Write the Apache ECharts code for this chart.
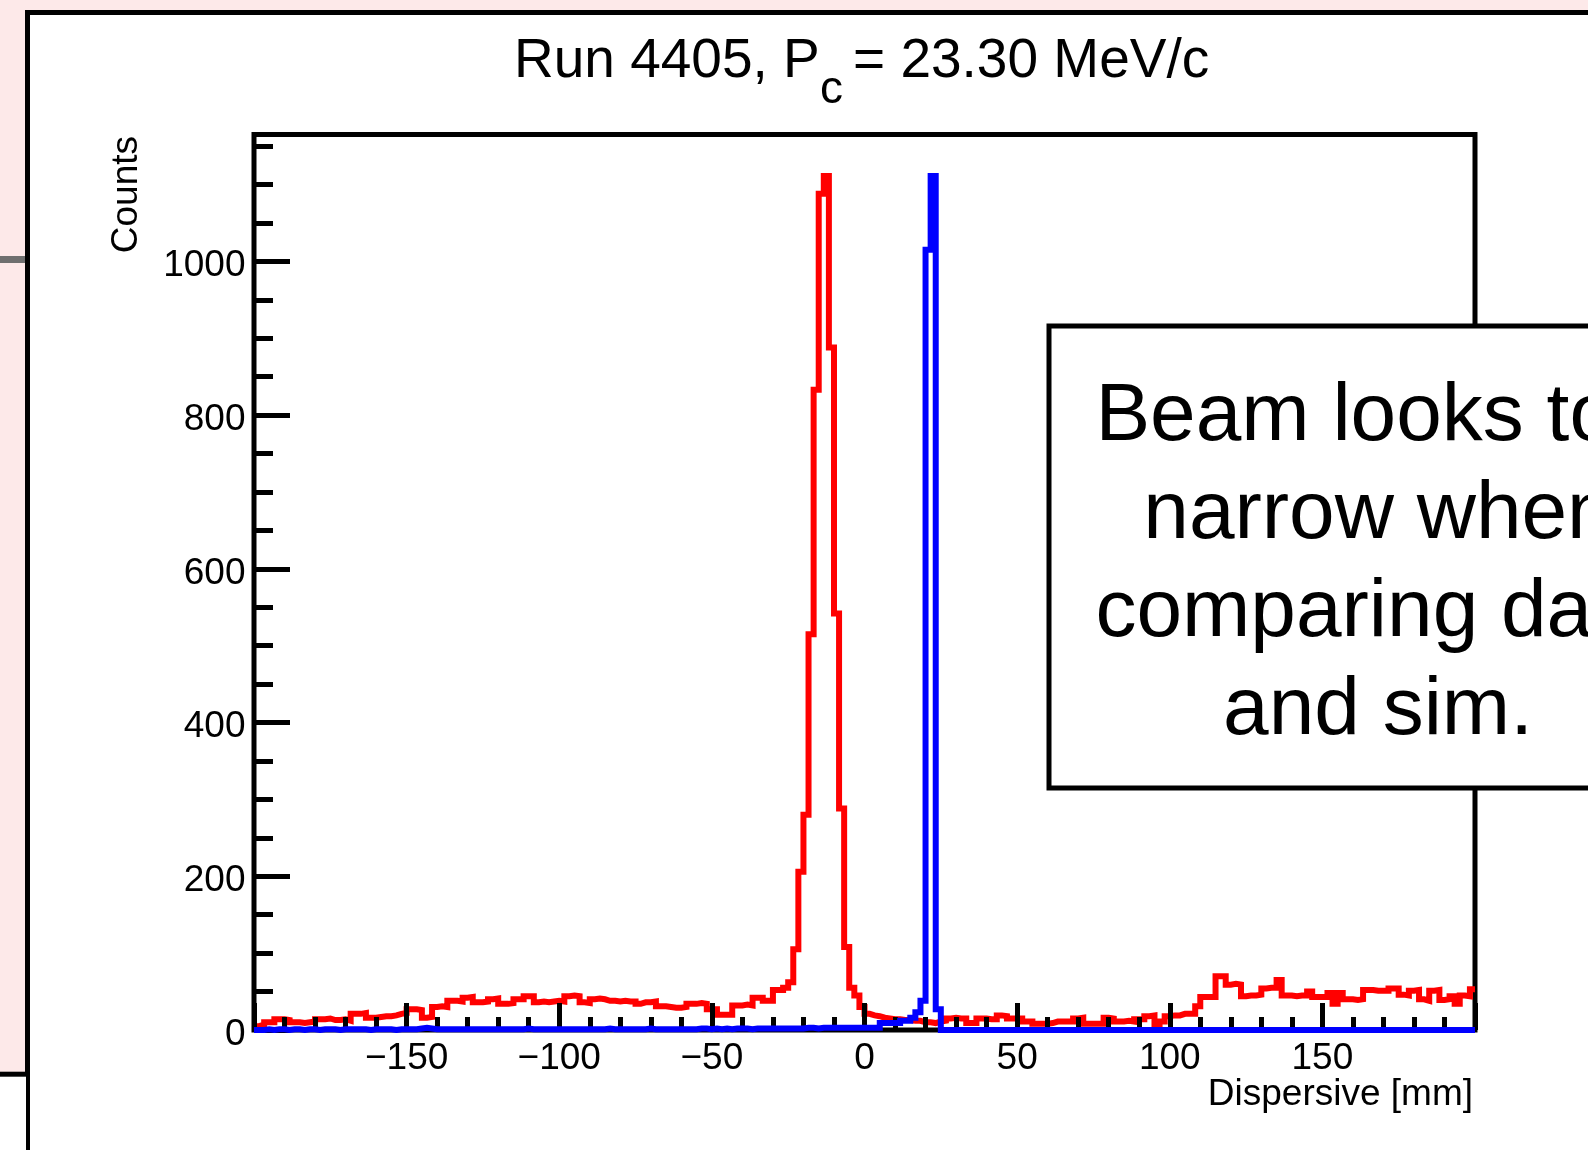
<!DOCTYPE html>
<html>
<head>
<meta charset="utf-8">
<script src="https://cdn.jsdelivr.net/npm/echarts@6/dist/echarts.min.js"></script>
<style>
html,body{margin:0;padding:0;background:#fde9e9;}
#chart{width:1588px;height:1150px;}
</style>
</head>
<body>
<div id="chart"></div>
<script>
// ---- data ----
const binMin = -200;
const binMax = 200;
const nBins = 240;
const xTickValues = [-200, -150, -100, -50, 0, 50, 100, 150, 200];
const yTickValues = [0, 200, 400, 600, 800, 1000];
const yMax = 1165;

// Data histogram (red), counts per bin
const dataCounts = [
  5, 7, 10, 10, 14, 14, 13, 10, 10, 9,
  10, 11, 14, 14, 15, 13, 13, 14, 12, 21,
  21, 22, 16, 16, 17, 18, 18, 19, 21, 22,
  27, 27, 26, 16, 17, 30, 31, 30, 38, 38,
  37, 42, 43, 36, 36, 37, 40, 41, 34, 34,
  35, 40, 40, 44, 44, 36, 37, 36, 37, 38,
  37, 44, 45, 44, 36, 35, 40, 41, 40, 38,
  38, 37, 38, 37, 37, 34, 36, 36, 37, 31,
  31, 30, 29, 29, 30, 34, 34, 35, 34, 27,
  27, 20, 20, 20, 32, 32, 33, 32, 42, 42,
  38, 38, 52, 52, 55, 62, 105, 206, 280, 515,
  833, 1088, 1111, 888, 542, 288, 108, 55, 45, 30,
  21, 19, 18, 16, 15, 14, 14, 13, 13, 12,
  12, 10, 10, 9, 11, 12, 15, 16, 15, 15,
  9, 9, 15, 15, 14, 14, 19, 18, 15, 15,
  15, 11, 11, 8, 8, 8, 9, 11, 11, 11,
  11, 15, 16, 8, 8, 8, 8, 16, 15, 11,
  11, 12, 11, 14, 14, 18, 19, 6, 11, 18,
  19, 19, 21, 21, 21, 31, 43, 43, 43, 70,
  70, 59, 60, 59, 44, 45, 45, 46, 54, 55,
  55, 65, 45, 45, 44, 45, 45, 50, 43, 43,
  43, 48, 34, 48, 40, 40, 39, 40, 52, 52,
  51, 51, 51, 54, 54, 46, 45, 51, 52, 40,
  38, 51, 52, 39, 40, 44, 34, 45, 44, 53
];

// Simulation histogram (blue), counts per bin
const simCounts = [
  0, 0, 1, 0, 1, 1, 0, 1, 1, 0,
  1, 1, 0, 1, 1, 1, 0, 1, 1, 1,
  1, 1, 0, 1, 1, 1, 1, 0, 1, 1,
  1, 1, 2, 3, 2, 1, 1, 1, 1, 1,
  1, 1, 1, 1, 1, 1, 1, 1, 1, 1,
  1, 1, 1, 2, 1, 1, 1, 1, 1, 1,
  1, 1, 1, 1, 1, 1, 1, 1, 1, 2,
  1, 1, 1, 1, 1, 1, 1, 2, 1, 1,
  1, 1, 1, 1, 1, 1, 1, 2, 2, 1,
  2, 1, 2, 1, 2, 2, 2, 1, 2, 2,
  2, 2, 2, 2, 2, 2, 2, 2, 3, 3,
  2, 3, 3, 3, 3, 3, 3, 3, 3, 3,
  3, 3, 3, 9, 9, 9, 9, 12, 12, 16,
  23, 38, 1015, 1111, 27, 0, 0, 0, 0, 0,
  0, 0, 0, 0, 0, 0, 0, 0, 0, 0,
  0, 0, 0, 0, 0, 0, 0, 0, 0, 0,
  0, 0, 0, 0, 0, 0, 0, 0, 0, 0,
  0, 0, 0, 0, 0, 0, 0, 0, 0, 0,
  0, 0, 0, 0, 0, 0, 0, 0, 0, 0,
  0, 0, 0, 0, 0, 0, 0, 0, 0, 0,
  0, 0, 0, 0, 0, 0, 0, 0, 0, 0,
  0, 0, 0, 0, 0, 0, 0, 0, 0, 0,
  0, 0, 0, 0, 0, 0, 0, 0, 0, 0,
  0, 0, 0, 0, 0, 0, 0, 0, 0, 0
];

const titleMain = 'Run 4405, P';
const titleSub = 'c';
const titleRest = '= 23.30 MeV/c';
const xTitle = 'Dispersive [mm]';
const yTitle = 'Counts';
const noteLines = ['Beam looks too', 'narrow when', 'comparing data', 'and sim.'];

// ---- build step points from bins ----
function histPoints(vals) {
  const w = (binMax - binMin) / nBins;
  const pts = [];
  for (let i = 0; i < vals.length; i++) pts.push([binMin + i * w, vals[i]]);
  pts.push([binMax, vals[vals.length - 1]]);
  return pts;
}

const FONT = '"Liberation Sans", Arial, Helvetica, sans-serif';
const minus = s => String(s).replace('-', '\u2212');

const chart = echarts.init(document.getElementById('chart'), null, {renderer: 'canvas'});
const option = {
  animation: false,
  backgroundColor: '#fde9e9',
  textStyle: {fontFamily: FONT, color: '#000'},
  grid: {
    left: 254, top: 134.5, right: 1588 - 1475, bottom: 1150 - 1030,
    show: true, borderColor: '#000', borderWidth: 5, backgroundColor: 'transparent',
    containLabel: false
  },
  xAxis: {
    type: 'value', min: binMin, max: binMax, interval: 50, z: 3,
    axisLine: {show: false, onZero: false},
    axisTick: {show: true, inside: true, length: 27, lineStyle: {color: '#000', width: 5}},
    minorTick: {show: true, splitNumber: 5, length: 13, lineStyle: {color: '#000', width: 5}},
    splitLine: {show: false},
    axisLabel: {
      show: true, margin: 10, fontSize: 37, color: '#000', fontFamily: FONT,
      formatter: v => (xTickValues.indexOf(v) > 0 && xTickValues.indexOf(v) < xTickValues.length - 1) ? minus(v) : ''
    }
  },
  yAxis: [
    {
      type: 'value', position: 'left', min: 0, max: yMax, interval: 200, z: 3,
      axisLine: {show: false, onZero: false},
      axisTick: {show: true, inside: true, length: 36, lineStyle: {color: '#000', width: 5}},
      splitLine: {show: false},
      axisLabel: {
        show: true, margin: 8.5, fontSize: 37, color: '#000', fontFamily: FONT,
        verticalAlign: 'top', lineHeight: 9,
        formatter: v => yTickValues.indexOf(v) >= 0 ? String(v) : ''
      }
    },
    {
      type: 'value', position: 'left', min: 0, max: yMax, interval: 50, z: 3,
      axisLine: {show: false, onZero: false},
      axisTick: {show: true, inside: true, length: 19, lineStyle: {color: '#000', width: 5}},
      splitLine: {show: false},
      axisLabel: {show: false}
    }
  ],
  series: [
    {
      name: 'data', type: 'line', step: 'end', xAxisIndex: 0, yAxisIndex: 0,
      data: histPoints(dataCounts), showSymbol: false, symbol: 'none', z: 2,
      lineStyle: {color: '#ff0000', width: 6, join: 'miter'}, silent: true
    },
    {
      name: 'sim', type: 'line', step: 'end', xAxisIndex: 0, yAxisIndex: 0,
      data: histPoints(simCounts), showSymbol: false, symbol: 'none', z: 5,
      lineStyle: {color: '#0000ff', width: 6, join: 'miter'}, silent: true
    }
  ],
  graphic: [
    // page decorations (behind chart)
    {type: 'rect', z: -100, shape: {x: 27.5, y: 12.5, width: 1700, height: 1300},
     style: {fill: '#ffffff', stroke: '#000', lineWidth: 5}},
    {type: 'rect', z: -99, shape: {x: 0, y: 256, width: 25, height: 7}, style: {fill: '#6f6f6f'}},
    {type: 'rect', z: -99, shape: {x: 0, y: 1074, width: 26, height: 100}, style: {fill: '#ffffff'}},
    {type: 'line', z: -98, shape: {x1: 0, y1: 1074.2, x2: 28, y2: 1074.2}, style: {stroke: '#000', lineWidth: 5}},
    // title
    {type: 'text', z: 100, x: 514, y: 62,
     style: {text: titleMain, font: '55px ' + FONT, fill: '#000', align: 'left', verticalAlign: 'middle', textAlign: 'left', textVerticalAlign: 'middle'}},
    {type: 'text', z: 100, x: 820, y: 90,
     style: {text: titleSub, font: '46px ' + FONT, fill: '#000', align: 'left', verticalAlign: 'middle', textAlign: 'left', textVerticalAlign: 'middle'}},
    {type: 'text', z: 100, x: 853, y: 62,
     style: {text: titleRest, font: '55px ' + FONT, fill: '#000', align: 'left', verticalAlign: 'middle', textAlign: 'left', textVerticalAlign: 'middle'}},
    // axis titles
    {type: 'text', z: 100, x: 1473, y: 1095,
     style: {text: xTitle, font: '37px ' + FONT, fill: '#000', align: 'right', verticalAlign: 'middle', textAlign: 'right', textVerticalAlign: 'middle'}},
    {type: 'text', z: 100, x: 127, y: 136, rotation: Math.PI / 2,
     style: {text: yTitle, font: '37px ' + FONT, fill: '#000', align: 'right', verticalAlign: 'middle', textAlign: 'right', textVerticalAlign: 'middle'}},
    // note box
    {type: 'rect', z: 200, shape: {x: 1049, y: 326, width: 800, height: 462},
     style: {fill: '#ffffff', stroke: '#000', lineWidth: 5}},
    {type: 'text', z: 201, x: 1378, y: 564,
     style: {text: noteLines.join('\n'), font: '82px ' + FONT, lineHeight: 98, fill: '#000',
             align: 'center', verticalAlign: 'middle', textAlign: 'center', textVerticalAlign: 'middle'}}
  ]
};
chart.setOption(option);
</script>
</body>
</html>
